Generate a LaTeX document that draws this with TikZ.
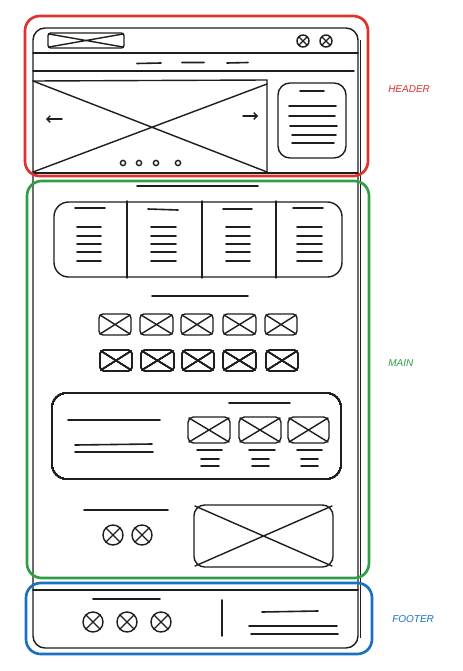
\documentclass[tikz,border=0pt]{standalone}
\usepackage{fontspec}
\setmainfont{Liberation Sans}
\usetikzlibrary{arrows.meta}
\definecolor{exRed}{HTML}{E03131}
\definecolor{exGreen}{HTML}{2F9E44}
\definecolor{exBlue}{HTML}{1971C2}
\definecolor{ink}{HTML}{1E1E1E}
\newcommand\wfXbox[5]{%
  \draw[inkline,rounded corners=#5] (#1,#2) rectangle (#3,#4);
  \draw[inkline] (#1+1,#2+1) -- (#3-1,#4-1) (#1+1,#4-1) -- (#3-1,#2+1);}
\newcommand\wfXcirc[3]{%
  \draw[inkline] (#1,#2) circle[radius=#3*0.75pt];
  \draw[inkline] (#1-0.707*#3,#2-0.707*#3) -- (#1+0.707*#3,#2+0.707*#3)
                 (#1-0.707*#3,#2+0.707*#3) -- (#1+0.707*#3,#2-0.707*#3);}
\begin{document}
\begin{tikzpicture}[x=0.75pt,y=-0.75pt,
  inkline/.style={draw=ink,line width=1.05pt,line cap=round},
  thinline/.style={draw=ink,line width=1.2pt,line cap=round},
  zoneframe/.style={line width=2pt,rounded corners=11pt},
  zonelabel/.style={font=\fontsize{7.5}{8}\selectfont\itshape,anchor=west,inner sep=0pt}]
\useasboundingbox[fill=white] (0,0) rectangle (462,671);

% ---------- browser frame ----------
\draw[inkline,rounded corners=9pt] (33,648) -- (33,28) -- (358,28) -- (358,648) -- cycle;
\draw[draw=ink,line width=0.7pt] (360,40) -- (360,638);
% header top bar
\wfXbox{48}{33}{124}{48}{2pt}
\wfXcirc{303}{41}{6}
\wfXcirc{326}{41}{6}
\draw[inkline] (33,53) -- (358,53);
\draw[thinline] (137,63.5) -- (161,63) (182,62.5) -- (204,62.5) (227,63) -- (248,62.5);
\draw[inkline] (33,71) -- (354,71);
% slider
\draw[inkline] (33,81) -- (267,80) -- (267,173);
\draw[inkline] (33,173) -- (358,173);
\draw[inkline] (33,81) -- (267,172) (33,172) -- (267,84);
\draw[inkline,-{Straight Barb[length=2.5pt,width=5pt]}] (62,119) -- (46,119);
\draw[inkline,-{Straight Barb[length=2.5pt,width=5pt]}] (243,116) -- (258,116);
\foreach \dx in {123,139,156,178} \draw[inkline] (\dx,163) circle[radius=2.6*0.75pt];
% side card
\draw[inkline,rounded corners=9pt] (278,83) rectangle (346,158);
\draw[thinline] (300,91) -- (324,91);
\draw[thinline] (289,106) -- (336,106) (289,116) -- (335,116) (290,126) -- (337,126)
  (292,135) -- (336,135) (292,143) -- (334,143);

% ---------- main ----------
\draw[thinline] (137,186) -- (258,186);
% four-column card
\draw[inkline,rounded corners=11pt] (54,202) rectangle (342,277);
\foreach \cx in {127,202,276} \draw[inkline] (\cx,201) -- (\cx,278);
\draw[thinline] (75,208) -- (105,208) (148,209) -- (178,210) (223,209) -- (252,209) (293,208) -- (323,208);
\foreach \ax/\bx in {77/101,151/176,226/250,297/322}{
  \foreach \ly in {227,236,244,252,261} \draw[thinline] (\ax,\ly) -- (\bx,\ly);}
\draw[thinline] (152,296) -- (248,296);
% icon rows
\foreach \ax/\bx in {99/131,140/173,181/213,223/256,265/297} \wfXbox{\ax}{314}{\bx}{335}{3pt}
\foreach \ax/\bx in {100/132,141/174,182/214,223/256,266/298} \wfXbox{\ax}{350}{\bx}{371}{3pt}
% big card
\draw[inkline,rounded corners=11pt] (52,393) rectangle (341,479);
\draw[thinline] (68,420) -- (160,420);
\draw[thinline] (75,445) -- (152,444) (75,452) -- (153,452);
\draw[thinline] (229,403) -- (290,403);
\foreach \ax/\bx/\la/\lb/\sa/\sb in {188/230/197/222/201/219, 239/281/249/275/252/269, 288/329/297/322/301/318}{
  \wfXbox{\ax}{417}{\bx}{443}{4pt}
  \draw[thinline] (\la,450) -- (\lb,450) (\sa,459) -- (\sb,459) (\sa,466) -- (\sb,466);}
% bottom of main
\draw[thinline] (84,510) -- (168,510);
\wfXcirc{113}{535}{10}
\wfXcirc{142}{535}{10}
\wfXbox{194}{505}{333}{567}{8pt}

% ---------- footer ----------
\draw[inkline] (33,590) -- (358,590);
\draw[thinline] (93,599) -- (160,599);
\wfXcirc{93}{622}{10}
\wfXcirc{127}{622}{10}
\wfXcirc{161}{622}{10}
\draw[thinline] (222,600) -- (222,636);
\draw[thinline] (262,612) -- (318,611);
\draw[thinline] (249,626) -- (337,626) (251,634) -- (338,634);

% ---------- zone frames ----------
\draw[zoneframe,exRed] (25,16) rectangle (368,176);
\draw[zoneframe,exGreen] (27,181) rectangle (369,578);
\draw[zoneframe,exBlue] (26,583) rectangle (372,654);
\node[zonelabel,text=exRed] (hdr) at (388,89) {HEADER};
\node[zonelabel,text=exGreen] (mn) at (388,363) {MAIN};
\node[zonelabel,text=exBlue] (ftr) at (392,619) {FOOTER};
\end{tikzpicture}
\end{document}
